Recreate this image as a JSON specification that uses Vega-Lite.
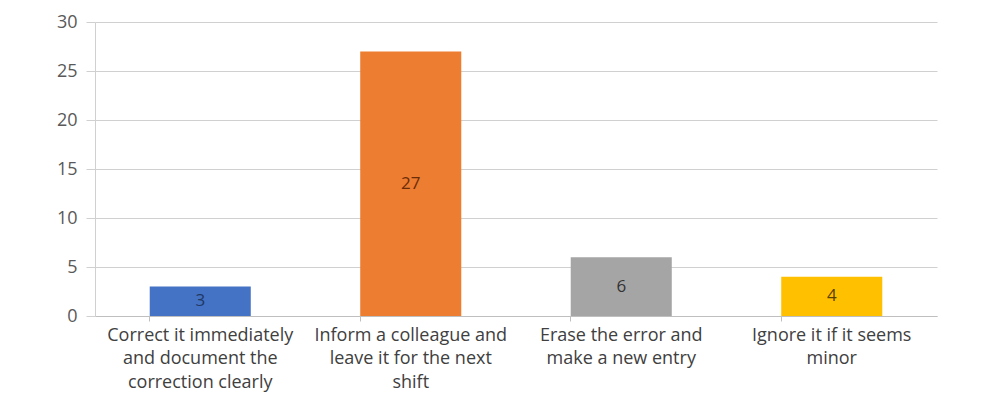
{
  "$schema": "https://vega.github.io/schema/vega-lite/v6.json",
  "autosize": "none",
  "width": 842,
  "height": 294,
  "padding": {"left": 95, "top": 22, "right": 55, "bottom": 81},
  "background": "white",
  "config": {
    "font": "Open Sans",
    "view": {"stroke": null}
  },
  "data": {
    "values": [
      {"response": "Correct it immediately\nand document the\ncorrection clearly", "count": 3, "color": "#4472c4", "labelColor": "#1f3864"},
      {"response": "Inform a colleague and\nleave it for the next\nshift", "count": 27, "color": "#ed7d31", "labelColor": "#6b2c07"},
      {"response": "Erase the error and\nmake a new entry", "count": 6, "color": "#a5a5a5", "labelColor": "#333333"},
      {"response": "Ignore it if it seems\nminor", "count": 4, "color": "#ffc000", "labelColor": "#5a4300"}
    ]
  },
  "transform": [{"calculate": "datum.count / 2", "as": "mid"}],
  "encoding": {
    "x": {
      "field": "response",
      "type": "nominal",
      "sort": null,
      "title": null,
      "scale": {"paddingInner": 0.52, "paddingOuter": 0.26},
      "axis": {
        "labelAngle": 0,
        "labelExpr": "split(datum.label, '\\n')",
        "labelFontSize": 18,
        "labelColor": "#404040",
        "labelLimit": 0,
        "labelLineHeight": 23.5,
        "labelPadding": 5,
        "bandPosition": 0,
        "tickSize": 5,
        "tickColor": "#bfbfbf",
        "domainColor": "#bfbfbf",
        "grid": false
      }
    }
  },
  "layer": [
    {
      "mark": {"type": "bar"},
      "encoding": {
        "y": {
          "field": "count",
          "type": "quantitative",
          "title": null,
          "scale": {"domain": [0, 30], "nice": false},
          "axis": {
            "values": [0, 5, 10, 15, 20, 25, 30],
            "labelFontSize": 18,
            "labelColor": "#595959",
            "labelPadding": 9,
            "tickSize": 9,
            "tickColor": "#d0d0d0",
            "gridColor": "#d0d0d0",
            "domainColor": "#d0d0d0"
          }
        },
        "color": {"field": "color", "type": "nominal", "scale": null}
      }
    },
    {
      "mark": {"type": "text", "fontSize": 17, "baseline": "middle", "align": "center"},
      "encoding": {
        "y": {"field": "mid", "type": "quantitative"},
        "text": {"field": "count", "type": "quantitative"},
        "color": {"field": "labelColor", "type": "nominal", "scale": null}
      }
    }
  ]
}
